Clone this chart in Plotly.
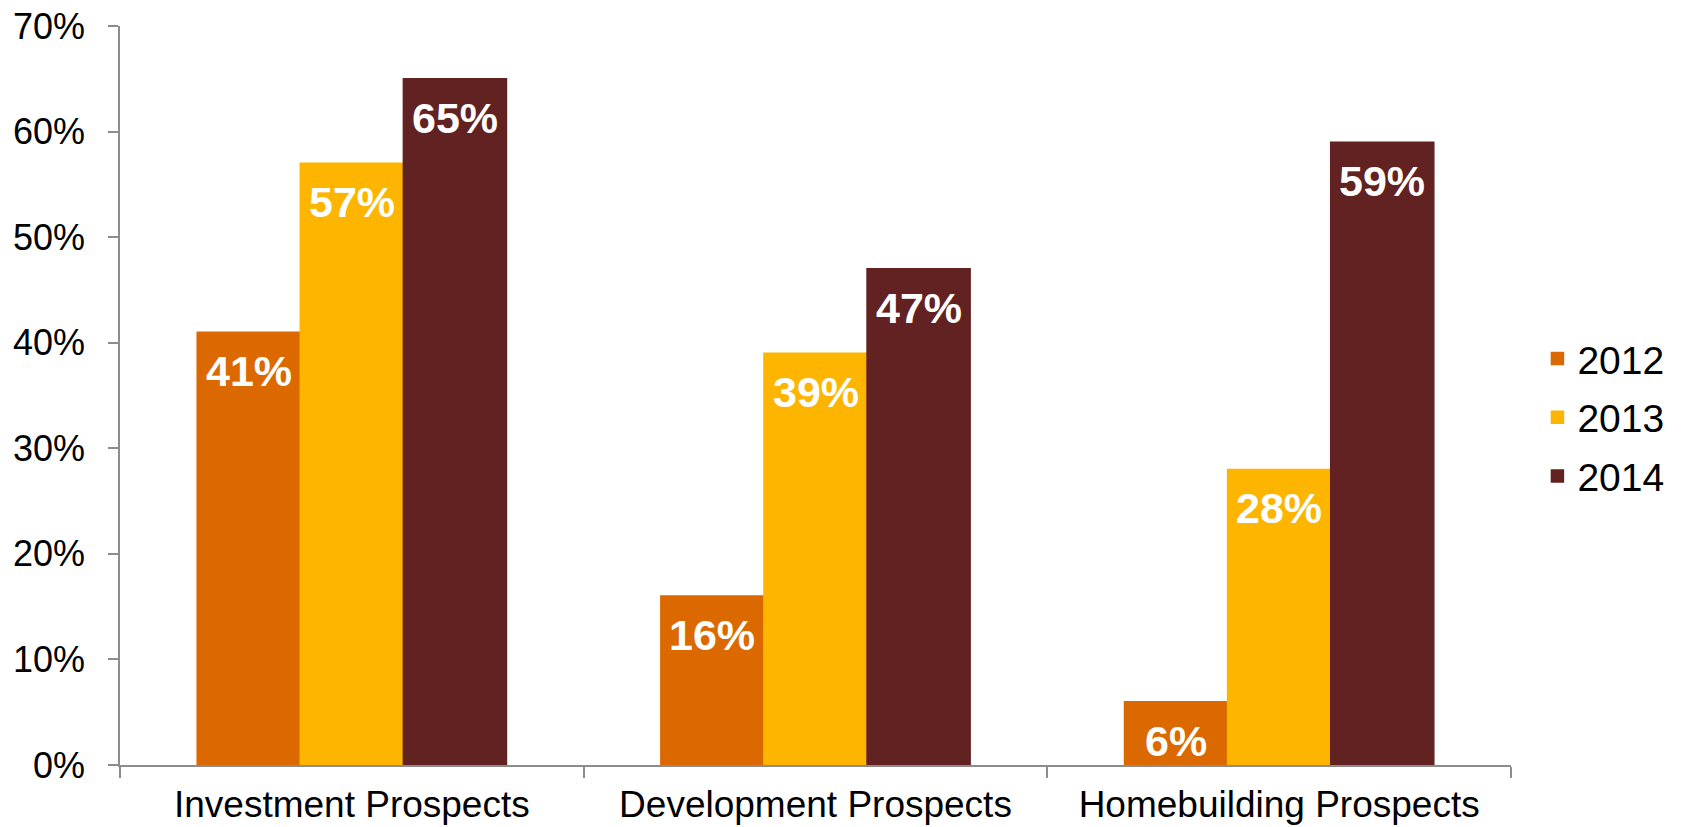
import plotly.graph_objects as go

categories = ["Investment Prospects", "Development Prospects", "Homebuilding Prospects"]
years = ["2012", "2013", "2014"]
values_2012 = [41, 16, 6]
values_2013 = [57, 39, 28]
values_2014 = [65, 47, 59]
y_ticks = [0, 10, 20, 30, 40, 50, 60, 70]

series = [
    ("2012", values_2012, "#DB6900"),
    ("2013", values_2013, "#FEB500"),
    ("2014", values_2014, "#622221"),
]

FONT = "Liberation Sans, Arial, sans-serif"
AXIS_GREY = "#8C8C8C"
BARGAP = 0.333

fig = go.Figure()
for name, vals, color in series:
    fig.add_trace(go.Bar(
        x=categories,
        y=vals,
        name=name,
        legendgroup=name,
        marker=dict(color=color, line=dict(width=1.5, color=color)),
        hovertemplate="%{x}<br>" + name + ": %{y}%<extra></extra>",
    ))

# value labels, white bold, placed just below the top of each bar
bar_w = (1 - BARGAP) / len(series)
for j, (name, vals, color) in enumerate(series):
    offset = (j - (len(series) - 1) / 2) * bar_w
    for i, v in enumerate(vals):
        fig.add_annotation(
            x=i + offset,
            y=v,
            xref="x",
            yref="y",
            text=f"<b>{v}%</b>",
            showarrow=False,
            yanchor="middle",
            yshift=-39,
            font=dict(family=FONT, size=43, color="white"),
        )

fig.update_layout(
    width=1683,
    height=827,
    margin=dict(l=120, r=172, t=26, b=62),
    paper_bgcolor="white",
    plot_bgcolor="white",
    barmode="group",
    bargap=BARGAP,
    bargroupgap=0,
    font=dict(family=FONT, size=36, color="black"),
    legend=dict(
        x=1.019,
        y=0.47,
        xanchor="left",
        yanchor="middle",
        font=dict(family=FONT, size=39, color="black"),
        tracegroupgap=5,
        bgcolor="rgba(0,0,0,0)",
    ),
)

fig.update_yaxes(
    range=[0, 70],
    tickvals=y_ticks,
    ticktext=[f"{t}%" for t in y_ticks],
    automargin=False,
    showgrid=False,
    zeroline=False,
    showline=True,
    linecolor=AXIS_GREY,
    linewidth=1.5,
    ticks="outside",
    ticklen=10,
    tickcolor=AXIS_GREY,
    tickwidth=1.5,
    ticklabelstandoff=16,
    tickfont=dict(family=FONT, size=36, color="black"),
)

fig.update_xaxes(
    automargin=False,
    showgrid=False,
    showline=True,
    linecolor=AXIS_GREY,
    linewidth=1.5,
    ticks="outside",
    tickson="boundaries",
    ticklen=11,
    tickcolor=AXIS_GREY,
    tickwidth=1.5,
    ticklabelstandoff=6,
    tickfont=dict(family=FONT, size=37, color="black"),
)

fig.write_html("out.html")
